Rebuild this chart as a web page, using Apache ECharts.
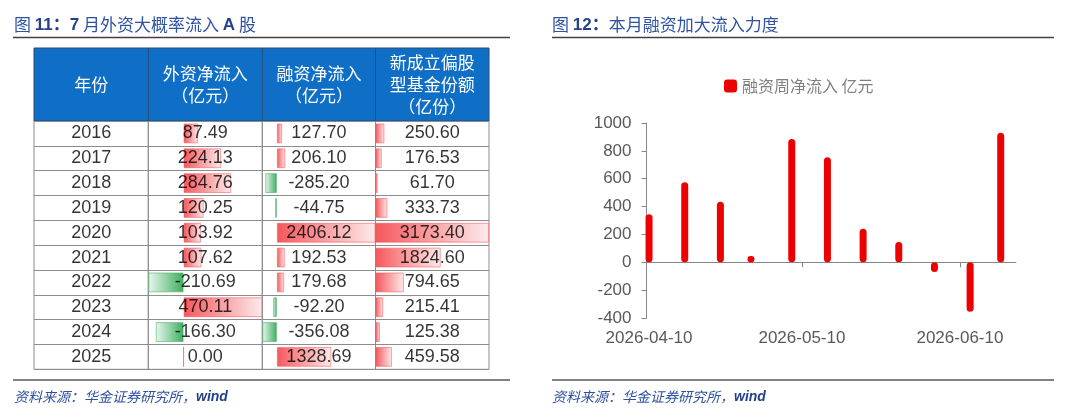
<!DOCTYPE html>
<html>
<head>
<meta charset="utf-8">
<script src="https://cdn.jsdelivr.net/npm/echarts@6/dist/echarts.min.js"></script>
<style>
  html, body { margin: 0; padding: 0; background: #fff; }
  #chart { width: 1080px; height: 413px; }
</style>
</head>
<body>
<div id="chart"></div>
<script>
// 图11：表格数据
const years = ['2016', '2017', '2018', '2019', '2020', '2021', '2022', '2023', '2024', '2025'];
const foreignFlow = [87.49, 224.13, 284.76, 120.25, 103.92, 107.62, -210.69, 470.11, -166.30, 0.00];
const marginFlow = [127.70, 206.10, -285.20, -44.75, 2406.12, 192.53, 179.68, -92.20, -356.08, 1328.69];
const newFundShares = [250.60, 176.53, 61.70, 333.73, 3173.40, 1824.60, 794.65, 215.41, 125.38, 459.58];
const tableHeaders = ['年份', '外资净流入\n（亿元）', '融资净流入\n（亿元）', '新成立偏股\n型基金份额\n（亿份）'];

// 图12：融资周净流入（亿元）
const weekDates = ['2026-04-10', '2026-04-17', '2026-04-24', '2026-04-30', '2026-05-08', '2026-05-15',
  '2026-05-22', '2026-05-29', '2026-06-05', '2026-06-12', '2026-06-18'];
const weeklyMargin = [345, 575, 435, 45, 885, 755, 240, 145, -70, -355, 930];
const dateTicks = ['2026-04-10', '2026-05-10', '2026-06-10'];
const dateRange = ['2026-04-09 12:00', '2026-06-21'];
const seriesName = '融资周净流入 亿元';

const SANS = "'Liberation Sans', Arial, 'Noto Sans CJK SC', sans-serif";
const CJK = "'Noto Sans CJK SC', sans-serif";
const BLUE = '#2F52A0';
const NAVY = '#24418A';

const ts = s => +echarts.time.parse(s);

const chart = echarts.init(document.getElementById('chart'), null, { renderer: 'canvas' });

// 表格布局（列边界、表头、行区）
const colEdges = [34, 148.3, 262.3, 375.5, 489];
const headTop = 48, rowTop = 121, rowBottom = 369.3;
const cellLine = '#8c8c8c';
const headLine = '#2B4B73';

// Excel 风格渐变数据条：正值红色，负值绿色
function dataBarStyle(v) {
  if (v >= 0) {
    return {
      color: new echarts.graphic.LinearGradient(0, 0, 1, 0, [
        { offset: 0, color: '#F5575C' }, { offset: 1, color: '#FDEBEB' }]),
      borderColor: 'rgba(245,87,92,0.55)', borderWidth: 1
    };
  }
  return {
    color: new echarts.graphic.LinearGradient(0, 0, 1, 0, [
      { offset: 0, color: '#EAF6EE' }, { offset: 1, color: '#3DAE5E' }]),
    borderColor: 'rgba(61,174,94,0.55)', borderWidth: 1
  };
}

const tableCols = [null, foreignFlow, marginFlow, newFundShares];
const grids = [], xAxes = [], yAxes = [], series = [];

tableCols.forEach((vals, i) => {
  grids.push({
    left: colEdges[i], width: colEdges[i + 1] - colEdges[i], top: rowTop, height: rowBottom - rowTop,
    show: true, borderColor: cellLine, borderWidth: 1, outerBoundsMode: 'none', containLabel: false
  });
  const lo = vals ? Math.min(0, ...vals) : 0;
  const hi = vals ? Math.max(0, ...vals) : 1;
  xAxes.push({ gridIndex: i, type: 'value', min: lo, max: hi, show: false });
  yAxes.push({
    gridIndex: i, type: 'category', data: years, inverse: true,
    axisLine: { show: false }, axisTick: { show: false }, axisLabel: { show: false },
    splitLine: { show: true, interval: 0, lineStyle: { color: cellLine, width: 1 } }
  });
  if (vals) {
    series.push({
      type: 'bar', xAxisIndex: i, yAxisIndex: i, barWidth: '80%', silent: true,
      data: vals.map(v => ({ value: v, itemStyle: dataBarStyle(v) }))
    });
  }
  // 单元格文字
  series.push({
    type: 'scatter', xAxisIndex: i, yAxisIndex: i, symbolSize: 1, silent: true, z: 5,
    itemStyle: { color: 'rgba(0,0,0,0)' },
    label: {
      show: true, position: 'inside', color: '#000', fontSize: 18, fontFamily: SANS,
      formatter: p => vals ? vals[p.dataIndex].toFixed(2) : years[p.dataIndex]
    },
    data: years.map(y => [(lo + hi) / 2, y])
  });
});

// 图12：柱状图（横轴为日期时间戳）
const g = grids.length;
grids.push({ left: 646.5, right: 64, top: 123, bottom: 95, outerBoundsMode: 'none', containLabel: false });
const axisGray = '#868686';
const labelGray = '#595959';
xAxes.push({
  gridIndex: g, type: 'value', position: 'bottom',
  min: ts(dateRange[0]), max: ts(dateRange[1]),
  axisLine: { show: true, onZero: true, lineStyle: { color: axisGray, width: 1 } },
  axisTick: { show: true, customValues: dateTicks.slice(1).map(ts), length: 5, lineStyle: { color: axisGray } },
  axisLabel: { show: false },
  splitLine: { show: false }
});
xAxes.push({
  gridIndex: g, type: 'value', position: 'bottom',
  min: ts(dateRange[0]), max: ts(dateRange[1]),
  axisLine: { show: false, onZero: false },
  axisTick: { show: false },
  axisLabel: {
    show: true, customValues: dateTicks.map(ts), margin: 12, color: labelGray, fontSize: 17, fontFamily: SANS,
    formatter: v => echarts.time.format(v, '{yyyy}-{MM}-{dd}', false)
  },
  splitLine: { show: false }
});
yAxes.push({
  gridIndex: g, type: 'value', min: -400, max: 1000, interval: 200,
  axisLine: { show: true, lineStyle: { color: axisGray, width: 1 } },
  axisTick: { show: true, length: 5, lineStyle: { color: axisGray } },
  axisLabel: { color: labelGray, fontSize: 17, fontFamily: SANS, margin: 15, formatter: v => String(v) },
  splitLine: { show: false }
});
series.push({
  name: seriesName, type: 'bar', xAxisIndex: g, yAxisIndex: g, barWidth: 7,
  itemStyle: { color: '#EC0000', borderRadius: 3.5 },
  data: weekDates.map((d, i) => [ts(d), weeklyMargin[i]])
});

// 标题、分隔线、表头、资料来源
const graphic = [];
const rule = (x1, x2, y, color) => graphic.push({
  type: 'line', shape: { x1, y1: y, x2, y2: y }, style: { stroke: color, lineWidth: 1.3 }, silent: true
});
rule(13, 510, 37.5, '#404040');
rule(552, 1054, 37.5, '#404040');
rule(13, 510, 380, '#595959');
rule(552, 1054, 380, '#595959');

const titleRich = {
  a: { fontFamily: CJK, fontSize: 17, fill: BLUE },
  b: { fontFamily: SANS, fontSize: 17, fontWeight: 'bold', fill: NAVY }
};
graphic.push({
  type: 'text', x: 14, y: 25, silent: true,
  style: { text: '{a|图 }{b|11：7}{a| 月外资大概率流入 }{b|A}{a| 股}', rich: titleRich, verticalAlign: 'middle', fill: BLUE }
});
graphic.push({
  type: 'text', x: 552, y: 25, silent: true,
  style: { text: '{a|图 }{b|12：}{a|本月融资加大流入力度}', rich: titleRich, verticalAlign: 'middle', fill: BLUE }
});
const srcRich = {
  a: { fontFamily: CJK, fontSize: 14, fontStyle: 'italic', fill: BLUE },
  b: { fontFamily: SANS, fontSize: 14, fontStyle: 'italic', fontWeight: 'bold', fill: NAVY }
};
[14, 552].forEach(x => graphic.push({
  type: 'text', x, y: 397, silent: true,
  style: { text: '{a|资料来源：华金证券研究所，}{b|wind}', rich: srcRich, verticalAlign: 'middle', fill: BLUE }
}));

graphic.push({
  type: 'rect', silent: true,
  shape: { x: colEdges[0], y: headTop, width: colEdges[4] - colEdges[0], height: rowTop - headTop },
  style: { fill: '#0F6FC6', stroke: headLine, lineWidth: 1 }
});
[1, 2, 3].forEach(i => graphic.push({
  type: 'line', silent: true,
  shape: { x1: colEdges[i], y1: headTop, x2: colEdges[i], y2: rowTop },
  style: { stroke: headLine, lineWidth: 1 }
}));
tableHeaders.forEach((t, i) => graphic.push({
  type: 'text', silent: true,
  x: (colEdges[i] + colEdges[i + 1]) / 2, y: (headTop + rowTop) / 2,
  style: {
    text: t, fill: '#fff', font: "17px 'Noto Sans CJK SC', sans-serif",
    align: 'center', verticalAlign: 'middle', lineHeight: 22
  }
}));

chart.setOption({
  animation: false,
  backgroundColor: '#fff',
  grid: grids,
  xAxis: xAxes,
  yAxis: yAxes,
  legend: {
    data: [seriesName], left: 724, top: 78, padding: 0,
    icon: 'roundRect', itemWidth: 13, itemHeight: 13, itemGap: 5,
    textStyle: { color: '#808080', fontSize: 16, fontFamily: CJK }
  },
  graphic: graphic,
  series: series
});
</script>
</body>
</html>
